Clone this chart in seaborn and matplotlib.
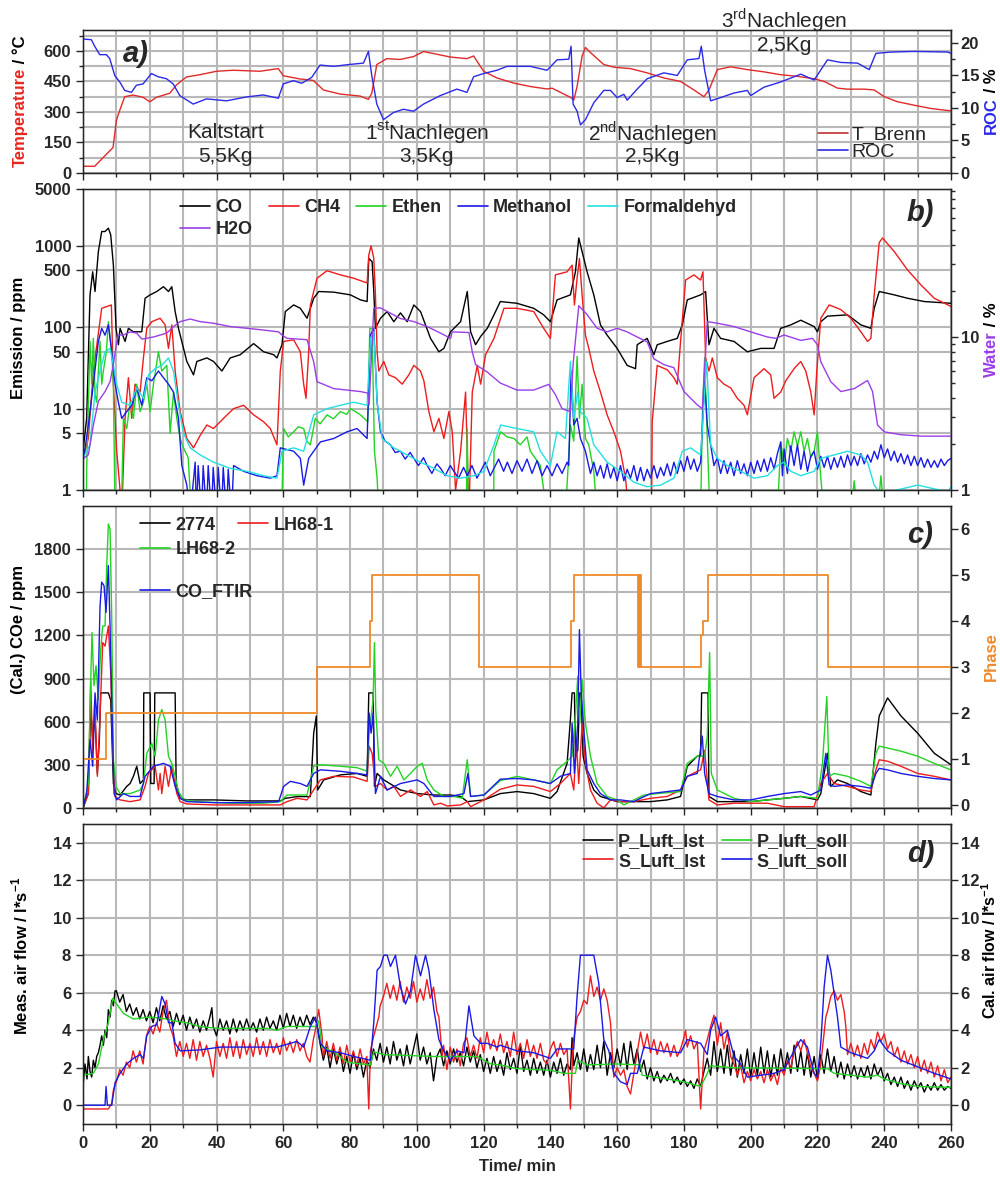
import matplotlib
matplotlib.use('Agg')
import matplotlib.pyplot as plt
import matplotlib.ticker as mticker
from matplotlib.lines import Line2D
import seaborn as sns

# ---- panel a: burner temperature and residual oxygen (ROC) ----
t_brenn = [(0, 33), (3.5, 33), (7, 92), (9, 125), (10, 258), (11, 308), (12.5, 375), (15, 383), (18, 372),
           (20, 350), (22, 372), (26, 392), (28, 433), (31, 472), (35, 483), (40, 500), (45, 505), (53, 500),
           (58.5, 513), (60, 478), (65, 462), (69, 455), (72, 408), (77, 388), (83, 378), (85.5, 362),
           (86.5, 392), (88, 533), (91, 562), (95, 558), (99, 572), (102, 597), (105, 587), (110, 570),
           (115, 562), (117, 575), (120, 500), (124, 467), (129, 442), (134, 425), (139, 413), (140.5, 417),
           (144, 388), (146, 372), (147, 358), (148, 425), (149.5, 575), (150.5, 617), (152, 592), (156, 533),
           (159, 520), (164, 513), (169, 492), (174, 467), (179, 450), (183, 408), (186, 375), (187.5, 408),
           (190, 508), (194, 522), (199, 508), (204, 497), (209, 483), (214, 475), (219, 463), (222, 450),
           (226, 417), (229, 412), (234, 412), (237, 408), (240, 375), (244, 350), (249, 333), (254, 317),
           (260, 305)]
roc = [(0, 20.6), (2.5, 20.5), (3.5, 19.5), (5, 18.2), (7, 18.2), (8, 17.6), (9.5, 15.0), (11, 14.0),
       (12.5, 12.7), (14.5, 12.4), (16, 13.5), (18, 13.7), (20.5, 15.3), (22.5, 14.8), (25, 14.5), (27, 13.7),
       (29, 11.9), (33, 10.6), (37, 11.4), (43, 11.1), (49, 11.7), (54, 12.0), (58.5, 11.5), (60, 13.7),
       (63, 14.2), (65.5, 13.8), (68.5, 14.7), (71, 16.6), (75, 16.4), (80, 16.7), (84, 16.9), (85.5, 18.7),
       (86.5, 15.0), (88, 10.6), (90, 8.2), (93, 9.3), (96, 9.8), (99, 9.5), (102, 10.6), (107, 11.9),
       (112, 12.9), (115, 12.4), (117, 14.8), (120, 15.3), (124, 15.8), (127, 16.4), (134, 16.4), (139, 15.8),
       (142, 17.4), (145.5, 17.5), (146.2, 19.5), (146.8, 10.6), (148, 9.5), (149, 7.4), (150.5, 8.2),
       (153, 10.8), (156, 12.7), (158, 12.7), (160, 11.6), (162, 12.1), (163, 11.2), (166, 12.9), (169, 14.5),
       (174, 15.4), (178, 15.0), (181, 17.4), (184.5, 17.6), (185.2, 19.5), (186.2, 15.8), (188, 11.1),
       (191, 11.6), (195, 12.3), (199, 12.7), (200, 11.9), (204, 13.2), (209, 14.0), (215, 15.2), (219, 14.3),
       (223, 17.4), (227, 17.0), (232, 16.9), (235.5, 15.9), (237.5, 18.4), (242, 18.6), (249, 18.7),
       (259, 18.6), (260, 18.4)]

# ---- panel b: FTIR emissions (ppm) and water (%) ----
co = [(0, 3), (1.1, 7.6), (2.1, 250), (2.9, 480), (3.6, 275), (4.6, 850), (5.6, 1500), (6.6, 1500), (7.6, 1650),
      (8.3, 1365), (9.1, 580), (9.9, 97), (10.6, 61), (11.1, 97), (12.6, 67), (13.6, 97), (15.1, 88), (17.6, 88),
      (18.6, 227), (20.1, 250), (22.1, 275), (24.1, 315), (25.6, 275), (26.6, 315), (27.6, 156), (28.6, 97),
      (31.1, 38), (33.1, 26), (34.1, 38), (37.1, 42), (39.1, 38), (41.6, 29), (44.1, 42), (47.1, 46), (51.1, 63),
      (54.1, 50), (57.1, 46), (58.1, 42), (59.6, 61), (60.6, 156), (63.1, 188), (65.1, 171), (67.1, 129),
      (68.1, 171), (69.1, 227), (70.6, 275), (75.1, 270), (80.1, 250), (83.1, 217), (85.1, 207), (85.6, 700),
      (86.6, 640), (87.1, 275), (87.6, 97), (89.1, 129), (91.1, 156), (93.1, 117), (95.1, 150), (97.1, 117),
      (99.1, 188), (101.1, 156), (104.1, 73), (106.6, 50), (108.1, 55), (110.1, 88), (113.1, 117), (115.1, 275),
      (116.1, 88), (117.6, 61), (119.1, 77), (121.1, 97), (123.1, 142), (125, 207), (130, 197), (135, 171),
      (138, 142), (140, 117), (142, 217), (146, 250), (147.5, 480), (148.5, 1250), (149.5, 850), (151, 480),
      (153, 250), (155, 107), (157, 80), (160, 55), (163, 34), (165.5, 31), (166, 61), (169, 73), (171, 46),
      (172, 61), (175, 67), (178, 73), (179.5, 107), (181, 217), (185, 250), (186.5, 275), (187.5, 61),
      (189, 97), (191, 73), (195, 67), (199, 50), (203, 55), (207, 55), (209, 97), (212, 107), (215, 122),
      (219, 102), (220, 88), (221, 117), (223, 137), (229, 142), (233, 107), (236, 97), (237, 171),
      (238.5, 275), (243, 250), (247, 227), (252, 207), (260, 197)]
ch4 = [(0, 2.45), (1.6, 4.3), (3.1, 29), (5.6, 171), (8.5, 188), (9.1, 20), (10.1, 3.0), (11.1, 1), (11.6, 0.5),
       (12.6, 7.6), (13.6, 24), (14.6, 7.6), (15.6, 20), (17.1, 16), (18.1, 42), (19.1, 97), (20.6, 117),
       (23.1, 129), (24.6, 107), (25.6, 55), (26.6, 107), (27.6, 29), (29.1, 9.2), (31.1, 4.3), (33.1, 3.3),
       (35.1, 4.7), (37.1, 6.3), (39.1, 5.7), (42.1, 7.6), (45.1, 10), (48.1, 11), (51.1, 8.4), (54.1, 6.9),
       (56.1, 5.7), (58.1, 3.6), (59.1, 29), (60.1, 67), (63.1, 70), (65.1, 50), (66.1, 20), (66.8, 13.4),
       (67.6, 50), (68.1, 188), (70.1, 400), (73.1, 495), (77.1, 440), (81.1, 400), (85.1, 350), (85.6, 770),
       (86.3, 1000), (87.1, 700), (87.6, 250), (88.1, 50), (88.6, 29), (90.1, 38), (91.6, 26), (93.6, 24),
       (95.6, 20), (97.6, 26), (99.1, 34), (101.1, 29), (102.1, 22), (103.6, 9.2), (105.1, 5.2), (106.6, 7.6),
       (108.1, 4.3), (109.6, 9.2), (110.6, 5.2), (111.6, 1), (113.1, 3), (114.6, 16), (115.6, 0.5), (116.6, 16),
       (118.1, 34), (119.1, 20), (120.6, 46), (123.1, 73), (126.1, 171), (130, 171), (135, 156), (138, 97),
       (140, 73), (141.5, 440), (145, 480), (146.5, 580), (147.2, 188), (148, 400), (148.7, 700), (149.5, 250),
       (150.5, 80), (151.5, 55), (153, 29), (155, 16), (157, 8.4), (159, 5.2), (161, 3.0), (162.5, 1.4),
       (163.5, 0.5), (170.3, 0.5), (170.5, 6.9), (172, 34), (175, 30), (177, 24), (178, 20), (179, 67),
       (180.5, 380), (183, 440), (185, 380), (185.7, 480), (186.5, 42), (187.5, 29), (188.5, 42), (190, 24),
       (192, 20), (194, 18), (196, 13.4), (198, 11), (199, 8.4), (201, 24), (204, 31), (206, 26), (207, 13.4),
       (209, 16), (210.5, 22), (213, 31), (215, 38), (216.5, 29), (218, 16), (219, 8.4), (219.8, 29), (221, 129),
       (223.5, 188), (227, 165), (230, 129), (233, 88), (235, 67), (236, 73), (237, 250), (238.5, 1100),
       (239.5, 1250), (243, 850), (247, 505), (251, 331), (255, 227), (260, 180)]
ethen = [(0, 0.5), (1.0, 0.5), (1.1, 1.8), (2.1, 67), (2.6, 20), (3.1, 73), (3.6, 15), (4.1, 12), (5.1, 67),
         (5.6, 20), (6.1, 29), (7.0, 50), (7.6, 117), (8.6, 50), (9.1, 20), (9.6, 0.5), (11.5, 0.5), (12.1, 7.6),
         (13.1, 5.7), (14.1, 12), (15.1, 7.6), (16.1, 20), (17.1, 9.2), (18.1, 12), (19.1, 20), (20.1, 9.2),
         (21.1, 20), (22.6, 50), (23.6, 29), (25.1, 34), (26.1, 5), (27.1, 16), (28.1, 7.6), (29.1, 4.3),
         (30.1, 3.3), (31.5, 2.5), (32.5, 0.5), (59.5, 0.5), (60.1, 5.7), (61.5, 4.5), (63.1, 5.2), (64.5, 6),
         (66.1, 5.7), (67, 4), (68.1, 3.6), (69.6, 7.6), (71, 6.5), (73.1, 8.4), (75, 7.5), (77.1, 9.2), (79, 8.5),
         (80.1, 10), (82, 9), (83.1, 8.4), (85.3, 6.9), (85.9, 97), (86.6, 97), (87.3, 3), (88.1, 1.4),
         (88.6, 0.5), (114.8, 0.5), (115.1, 5.7), (115.4, 0.5), (123, 0.5), (123.1, 3), (125.1, 5.2), (127, 4.5),
         (129.1, 4.3), (131, 3.6), (133, 4.5), (134, 3), (137, 2.0), (139, 0.5), (144.5, 0.5), (145, 1.15),
         (146, 6.3), (147, 4), (148, 44), (148.7, 7.6), (149.5, 20), (150.5, 4.3), (151.5, 3.6), (153, 1.7),
         (154, 0.5), (185, 0.5), (185.5, 7.6), (186.2, 42), (187, 4.3), (187.8, 0.5), (208, 0.5), (209, 3.9),
         (210, 2), (211, 4.3), (212, 3), (213, 5.2), (214, 3.5), (215, 5.2), (216, 3), (217, 4.3), (218, 2.5),
         (219, 3), (220, 5.2), (221, 1.4), (222, 0.5), (230, 0.5), (231, 1.3), (232, 0.5), (238, 0.5),
         (239, 1.5), (240, 0.5), (260, 0.5)]
methanol = [(0, 2.2), (1.6, 6.3), (3.1, 20), (4.6, 67), (5.6, 97), (6.6, 80), (7.6, 107), (8.6, 50), (9.6, 20),
            (10.6, 12), (11.6, 7.6), (13.1, 9.2), (14.6, 11), (16.1, 18), (17.6, 11), (19.1, 24), (20.6, 22),
            (22.6, 29), (24.1, 24), (25.6, 20), (27.1, 16), (28.6, 7.6), (29.6, 2.0), (31.1, 1.15), (32.1, 0.5),
            (33.6, 2.2), (34, 0.5), (34.5, 2.0), (35.5, 0.5), (36, 2.0), (37, 0.5), (37.5, 2.0), (38.5, 0.5),
            (39, 1.9), (40, 0.5), (40.5, 1.9), (41.5, 0.5), (42, 1.9), (43, 0.5), (43.5, 1.8), (44.5, 0.5),
            (45.1, 2.0), (48.1, 1.7), (52.1, 1.5), (56.1, 1.4), (58.1, 1.5), (59.1, 3.3), (63.1, 3), (65.1, 2.45),
            (66.1, 1.15), (67.6, 2.45), (69.1, 3), (71.1, 3.9), (75.1, 4.3), (79.1, 5.2), (82.1, 5.7), (85.1, 4.3),
            (86.1, 80), (87.1, 97), (88.1, 12), (89.1, 5.2), (90.5, 4.0), (92.1, 3.6), (93.5, 2.9), (95.1, 3),
            (96.5, 2.4), (98, 2.9), (99.1, 2.45), (100.5, 2.0), (102, 2.5), (103.1, 2), (104.5, 1.6), (106, 2.1),
            (107.1, 1.85), (108.5, 1.5), (110, 2.0), (111.1, 1.7), (112.5, 1.4), (114, 1.9), (115.1, 1.5),
            (116.5, 2.0), (118, 1.4), (119.1, 1.7), (120.5, 2.2), (122, 1.5), (123.1, 1.85), (124.5, 2.4),
            (126, 1.7), (127.1, 2.2), (128.5, 1.6), (130, 2.3), (131.5, 1.7), (133, 2.4), (134.5, 1.6), (136, 2.3),
            (137.5, 1.5), (139, 2.0), (140.5, 1.5), (142, 2.1), (143.5, 1.6), (145, 2.2), (145.5, 2.0),
            (146.2, 29), (147, 6.3), (148, 7.6), (149, 4.3), (150.5, 3), (152, 1.6), (153, 2.2), (154, 1.5),
            (155, 2.0), (156, 1.4), (157, 2.1), (158, 1.4), (159, 1.9), (160, 1.3), (161, 2.0), (162, 1.3),
            (163, 1.8), (164, 1.4), (165, 2.0), (166, 1.3), (167, 1.9), (168, 1.3), (169, 1.8), (170, 1.4),
            (171, 2.0), (172, 1.4), (173, 1.9), (174, 1.5), (175, 2.1), (176, 1.5), (177, 2.2), (178, 1.6),
            (179, 2.3), (180, 1.7), (181, 2.6), (182, 1.8), (183, 2.4), (184, 1.7), (185, 2.2), (186.2, 22),
            (187, 6.3), (188, 3.6), (189, 2.0), (190, 2.5), (191, 1.6), (192, 2.3), (193, 1.6), (194, 2.2),
            (195, 1.5), (196, 2.3), (197, 1.6), (198, 2.1), (199, 1.5), (200, 2.2), (201, 1.6), (202, 2.3),
            (203, 1.7), (204, 2.4), (205, 1.7), (206, 2.5), (207, 1.8), (208, 2.8), (209, 3.9), (209.5, 1.5),
            (210, 3.2), (211, 1.6), (212, 3.5), (213, 2.0), (214, 3.6), (215, 1.8), (216, 3.0), (217, 1.7),
            (218, 2.6), (219, 3.0), (220, 1.8), (221, 2.6), (222, 1.9), (223, 2.6), (224, 1.8), (225, 2.5),
            (226, 1.9), (227, 2.6), (228, 1.9), (229, 2.7), (230, 2.0), (231, 2.6), (232, 2.0), (233, 2.8),
            (234, 2.1), (235, 2.7), (236, 2.2), (237, 3.0), (238, 2.4), (239, 3.6), (240, 2.5), (241, 3.2),
            (242, 2.3), (243, 3.0), (244, 2.2), (245, 2.8), (246, 2.1), (247, 2.7), (248, 2.0), (249, 2.6),
            (250, 2.0), (251, 2.5), (252, 1.9), (253, 2.4), (254, 1.9), (255, 2.3), (256, 1.9), (257, 2.4),
            (258, 2.0), (259, 2.3), (260, 2.45)]
formaldehyd = [(0, 2.45), (2.1, 3.6), (3.6, 16), (5.1, 29), (6.6, 50), (8.1, 55), (9.1, 34), (10.1, 20),
               (11.6, 12), (14.1, 11), (16.1, 18), (18.1, 13.4), (19.6, 26), (21.6, 31), (23.6, 34), (25.6, 42),
               (27.1, 29), (28.6, 11), (30.1, 5), (32.1, 3.3), (35.1, 2.7), (39.1, 2.2), (44.1, 1.85), (49.1, 1.7),
               (54.1, 1.5), (58.1, 1.4), (59.6, 3), (63.1, 3.3), (66.1, 3), (69.1, 8.4), (73.1, 10), (77.1, 11),
               (81.1, 12), (85.1, 11), (86.1, 73), (87.1, 88), (88.1, 12), (89.6, 4.3), (93.1, 3.3), (97.1, 2.7),
               (101.1, 2.2), (105.1, 1.85), (109.1, 1.5), (113.1, 1.4), (117.1, 1.5), (120.1, 1.7), (123.1, 3.6),
               (125.1, 6.3), (130, 5.7), (135, 5.2), (137, 3), (140, 2), (142, 5.2), (144.5, 4.3), (146, 38),
               (147, 7.6), (148.2, 16), (149, 9.2), (151, 7.6), (153, 3.6), (157, 2.2), (161, 1.7), (165, 1.25),
               (169, 1.1), (173, 1.15), (177, 1.4), (179.5, 3), (182, 3.3), (185, 2.7), (186.8, 38), (188, 3.6),
               (190, 2.45), (193, 2.0), (197, 1.7), (201, 1.4), (205, 1.5), (208, 2.0), (210, 2.2), (212, 1.7),
               (215, 1.5), (219, 1.7), (221, 2.45), (225, 2.7), (229, 3), (233, 2.7), (235, 2.2), (237, 1.15),
               (239, 0.9), (250, 1.15), (259, 0.95), (260, 1.1)]
h2o = [(0, 1.6), (1.6, 1.7), (3.1, 2.66), (4.6, 3.8), (6.6, 4.4), (8.1, 5.1), (9.1, 6.6), (10.1, 9.3),
       (10.6, 10.3), (12.1, 10.3), (14.1, 10.8), (16.1, 10.6), (17.6, 9.7), (19.1, 9.8), (21.1, 10.0),
       (23.1, 10.3), (25.1, 10.6), (27.1, 11.7), (29.1, 12.6), (32.1, 13.1), (35.1, 12.6), (39.1, 12.3),
       (44.1, 11.7), (49.1, 11.4), (54.1, 11.1), (58.6, 10.8), (59.6, 10.3), (61.1, 9.8), (64.1, 9.7),
       (67.1, 9.6), (69.1, 6.9), (70.1, 5.1), (72.1, 4.9), (75.1, 4.6), (79.1, 4.5), (83.1, 4.4), (85.3, 4.3),
       (85.7, 3.6), (87.1, 15.4), (89.1, 15.5), (92.1, 14.3), (95.1, 13.2), (99.1, 12.6), (103.1, 11.7),
       (107.1, 10.6), (110.1, 9.8), (110.6, 10.8), (115.6, 10.7), (116.6, 8.0), (117.6, 6.6), (121.1, 5.9),
       (125, 5.0), (130, 4.5), (135, 4.5), (139.5, 4.9), (141.5, 4.2), (143.5, 3.4), (146, 3.25), (146.8, 6.6),
       (148.5, 16), (151, 14), (154, 11.4), (157, 10.8), (160, 11.4), (163, 10.8), (166, 10.0), (169, 9.3),
       (171, 7.2), (174, 6.6), (177, 6.3), (180, 4.4), (184, 3.6), (185.5, 3.4), (187, 12.6), (190, 12.3),
       (195, 11.7), (200, 10.8), (205, 10.0), (207.5, 9.8), (210, 10.3), (215, 9.5), (218.5, 9.8), (220, 8.9),
       (221, 6.9), (224, 5.1), (227, 4.4), (231, 4.6), (235, 5.2), (236.5, 4.4), (238, 2.66), (240, 2.4),
       (245, 2.3), (251, 2.25), (260, 2.25)]

# ---- panel c: sensor CO equivalents (ppm) and phase ----
s2774 = [(0, 0), (1.6, 100), (2.3, 700), (2.9, 475), (3.6, 640), (4.3, 240), (4.9, 475), (5.3, 800), (7.6, 800),
         (8.3, 750), (9.1, 170), (9.9, 100), (11.1, 90), (13.1, 150), (14.1, 170), (15.1, 220), (16.1, 290),
         (17.1, 170), (18.1, 195), (18.2, 800), (20.1, 800), (20.3, 170), (21.3, 170), (21.5, 800), (27.6, 800),
         (27.9, 170), (29.1, 67), (31.1, 56), (39.1, 56), (49.1, 49), (59.1, 49), (60.6, 67), (64.1, 79),
         (68.1, 79), (69.1, 520), (69.9, 640), (70.3, 125), (72.1, 195), (77.1, 230), (82.1, 240), (85.1, 220),
         (85.6, 800), (86.9, 800), (87.3, 150), (88.1, 240), (90.1, 195), (95.1, 125), (100.1, 100), (105.1, 90),
         (110.1, 90), (113.1, 80), (115.1, 44), (120.1, 56), (125, 100), (130, 114), (135, 100), (140, 67),
         (142, 114), (145, 310), (146, 615), (146.5, 800), (147.2, 800), (147.5, 360), (148.2, 400), (148.8, 800),
         (149.2, 800), (149.8, 360), (151, 240), (153, 125), (155, 80), (160, 44), (165, 44), (170, 44), (175, 56),
         (179, 80), (181, 290), (184, 360), (185, 360), (185.3, 800), (187.2, 800), (187.5, 80), (190, 44),
         (195, 44), (200, 44), (205, 56), (210, 67), (215, 80), (220, 56), (221, 100), (223, 380), (224, 150),
         (226, 195), (229, 170), (233, 114), (236, 90), (237.5, 450), (238.5, 640), (241, 765), (245, 640),
         (250, 520), (255, 380), (260, 300)]
lh68_1 = [(0, 0), (1.6, 100), (2.3, 890), (2.9, 380), (3.5, 750), (4.3, 220), (5.1, 640), (5.9, 1150), (6.6, 1125),
          (7.1, 1195), (7.6, 1265), (8.3, 940), (8.9, 405), (9.6, 80), (11.1, 56), (14.1, 44), (17.1, 56),
          (18.6, 150), (19.6, 240), (20.6, 265), (21.6, 290), (22.6, 125), (23.1, 240), (23.6, 100), (24.6, 290),
          (25.6, 150), (26.6, 290), (28.1, 100), (29.1, 44), (31.1, 28), (39.1, 21), (49.1, 21), (59.1, 21),
          (61.1, 44), (64.1, 67), (67.1, 56), (69.1, 125), (71.1, 195), (75.1, 220), (81.1, 215), (85.1, 185),
          (85.7, 430), (86.6, 380), (87.6, 150), (89.1, 170), (91.1, 125), (93.1, 150), (95.1, 80), (98.1, 125),
          (101.1, 80), (103.1, 114), (105.1, 21), (107.1, 33), (109.1, 14), (113.1, 21), (115.1, 44), (116.1, 9),
          (120.1, 56), (123, 100), (125, 130), (130, 160), (135, 150), (140, 114), (143, 170), (146, 240),
          (147, 125), (147.8, 450), (148.5, 170), (149.5, 590), (150.5, 310), (152, 125), (154, 33), (156, 0),
          (158, 56), (161, 44), (165, 44), (170, 67), (175, 80), (179, 125), (181, 220), (185, 265), (186.2, 400),
          (187.5, 56), (190, 21), (195, 33), (200, 33), (205, 33), (210, 9), (215, 9), (219, 9), (221, 170),
          (223, 240), (225, 170), (229, 150), (233, 125), (236, 114), (237.5, 265), (238.5, 335), (241, 325),
          (245, 290), (250, 240), (255, 220), (260, 195)]
lh68_2 = [(0, 0), (1.6, 170), (2.1, 700), (2.7, 1220), (3.3, 850), (3.9, 990), (4.6, 750), (5.3, 1100),
          (5.9, 1265), (6.6, 1265), (7.1, 1680), (7.6, 1975), (8.1, 1940), (8.6, 1335), (9.1, 335), (9.9, 150),
          (11.1, 100), (14.1, 100), (17.1, 125), (18.1, 170), (19.1, 380), (20.6, 450), (21.6, 360), (22.6, 610),
          (23.6, 685), (24.6, 610), (25.6, 360), (26.6, 310), (27.6, 220), (28.6, 115), (30.1, 56), (34.1, 44),
          (44.1, 33), (54.1, 33), (59.1, 44), (61.1, 90), (65.1, 90), (67.1, 90), (69.1, 290), (71.1, 300),
          (77.1, 290), (82.1, 280), (85.1, 255), (85.7, 520), (86.9, 750), (87.3, 1150), (87.7, 680), (88.6, 335),
          (90.1, 310), (92.1, 220), (94.1, 290), (96.1, 195), (98.1, 240), (100.1, 290), (101.6, 310),
          (103.1, 195), (105.1, 125), (108.1, 80), (111.1, 80), (113.6, 67), (115.1, 335), (116.1, 80),
          (120.1, 90), (125, 190), (130, 220), (135, 195), (140, 170), (142, 265), (145, 325), (146.5, 360),
          (147.5, 640), (148.2, 915), (148.8, 590), (149.5, 890), (150.5, 590), (152, 360), (154, 170), (157, 80),
          (160, 56), (162, 21), (165, 56), (168, 90), (172, 100), (179, 114), (181, 310), (184, 360),
          (186.2, 360), (187, 500), (187.7, 1080), (188.2, 240), (190, 125), (195, 67), (200, 44), (205, 56),
          (210, 67), (215, 80), (220, 67), (221.5, 310), (222.8, 775), (223.5, 220), (225, 240), (229, 220),
          (233, 185), (236, 150), (237.5, 380), (238.5, 430), (245, 395), (250, 360), (255, 310), (260, 265)]
co_ftir = [(0, 0), (1.1, 100), (2.1, 475), (2.9, 290), (3.6, 800), (4.3, 610), (5.1, 1400), (5.6, 1570),
           (6.3, 1545), (6.9, 1360), (7.6, 1685), (8.1, 1265), (8.6, 750), (9.3, 100), (10.1, 56), (12.1, 100),
           (14.1, 80), (17.1, 80), (18.6, 220), (21.1, 290), (24.1, 310), (26.1, 290), (27.6, 150), (29.1, 67),
           (31.1, 44), (39.1, 37), (49.1, 37), (58.6, 44), (60.1, 150), (62.1, 185), (65.1, 170), (67.1, 150),
           (69.1, 240), (71.1, 265), (77.1, 255), (82.1, 240), (85.1, 230), (85.7, 660), (86.3, 520), (86.9, 660),
           (87.6, 100), (89.1, 220), (91.1, 125), (95.1, 170), (100.1, 195), (102.1, 170), (105.1, 80),
           (110.1, 80), (114.1, 100), (115.3, 240), (116.1, 80), (120.1, 90), (125, 200), (130, 205), (135, 195),
           (140, 170), (143, 220), (146, 240), (146.5, 590), (147.2, 240), (148.2, 590), (148.7, 1240),
           (149.2, 820), (150, 545), (151, 265), (153, 170), (155, 100), (158, 56), (161, 56), (165, 44), (167, 67),
           (170, 100), (175, 114), (179, 125), (181, 220), (184, 240), (185.5, 500), (186.2, 240), (187.5, 100),
           (190, 80), (195, 56), (200, 56), (205, 80), (210, 100), (215, 114), (218, 90), (221, 125),
           (222.5, 380), (223.5, 160), (225, 150), (229, 160), (233, 150), (236, 137), (237.5, 240), (238.5, 275),
           (241, 265), (245, 240), (250, 220), (255, 205), (260, 195)]
phase = [(0, 1), (6.8, 2), (70, 3), (85.9, 4), (86.7, 5), (118.7, 3), (146.2, 4), (147.1, 5), (166.3, 3),
         (166.5, 5), (166.7, 3), (166.9, 5), (167.1, 3), (185.2, 3.7), (185.6, 4), (187.1, 5), (223.1, 3), (260, 3)]

# ---- panel d: measured and calculated air flows (l/s) ----
p_luft_ist = [(0, 1.0), (0.6, 2.2), (1.2, 1.4), (1.6, 2.6), (2.1, 1.8), (2.6, 1.5), (3.1, 2.4), (3.6, 2.0),
              (4.1, 2.6), (4.6, 2.8), (5.1, 3.2), (5.6, 3.7), (6.1, 3.2), (6.6, 4.0), (7.1, 3.6), (7.6, 5.1),
              (8.1, 4.7), (8.6, 5.6), (9.1, 5.3), (9.6, 6.1), (10, 6.1), (11, 5.5), (12, 5.9), (13, 5.0), (14, 5.4),
              (15, 4.8), (16, 5.2), (17, 4.6), (18, 5.1), (19, 4.5), (20, 5.0), (21, 4.4), (22, 5.2), (23, 4.5),
              (24, 5.3), (25, 4.6), (26, 5.0), (27, 4.2), (28, 4.9), (29, 4.3), (30, 4.8), (31, 4.0), (32, 4.7),
              (33, 4.1), (34, 4.6), (35, 3.9), (36, 4.5), (37, 4.0), (38, 4.7), (38.6, 5.2), (39, 4.2), (40, 3.7),
              (41, 4.6), (42, 4.0), (43, 4.5), (44, 3.8), (45, 4.6), (46, 3.9), (47, 4.5), (48, 4.0), (49, 4.6),
              (50, 4.0), (51, 4.4), (52, 3.9), (53, 4.6), (54, 4.0), (55, 4.7), (56, 4.1), (57, 4.5), (58, 4.0),
              (59, 4.8), (60, 4.1), (61, 4.9), (62, 4.2), (63, 4.8), (64, 4.1), (65, 4.7), (66, 4.2), (67, 4.8),
              (68, 4.3), (69, 4.7), (70, 4.4), (71, 3.3), (72, 2.4), (73, 3.1), (74, 2.0), (75, 3.0), (76, 2.2),
              (77, 2.9), (78, 1.8), (79, 2.6), (80, 1.7), (81, 2.8), (82, 1.9), (83, 2.5), (84, 1.5), (85, 2.4),
              (86, 2.0), (87, 3.0), (88, 2.4), (89, 3.3), (90, 2.3), (91, 3.1), (92, 2.2), (93, 3.4), (94, 2.4),
              (95, 3.0), (96, 2.1), (97, 3.2), (98, 2.2), (99, 3.0), (100, 3.8), (101, 2.4), (102, 3.1), (103, 2.2),
              (104, 2.8), (105, 1.3), (106, 2.6), (107, 3.0), (108, 2.1), (109, 2.9), (110, 2.2), (111, 3.0),
              (112, 2.3), (113, 2.8), (114, 2.1), (115, 3.1), (116, 2.3), (117, 2.9), (118, 2.0), (119, 2.7),
              (120, 1.8), (121, 2.5), (122, 1.7), (123, 2.6), (124, 1.8), (125, 2.4), (126, 1.6), (127, 2.8),
              (128, 1.9), (129, 2.5), (130, 1.7), (131, 3.2), (132, 1.8), (133, 2.4), (134, 1.6), (135, 2.5),
              (136, 1.7), (137, 2.3), (138, 1.6), (139, 2.4), (140, 1.5), (141, 2.3), (142, 1.7), (143, 2.5),
              (144, 1.6), (145, 2.2), (146, 1.9), (146.5, 3.6), (147, 2.1), (148, 2.8), (149, 1.9), (150, 3.0),
              (151, 1.8), (152, 2.7), (153, 1.9), (154, 3.2), (155, 2.0), (156, 3.4), (157, 1.6), (158, 2.8),
              (159, 2.0), (160, 3.0), (161, 2.1), (162, 3.3), (163, 1.9), (164, 3.4), (165, 2.2), (166, 3.0),
              (167, 1.8), (168, 2.4), (169, 1.4), (170, 2.0), (171, 1.3), (172, 1.8), (173, 1.2), (174, 1.6),
              (175, 1.3), (176, 1.7), (177, 1.2), (178, 1.5), (179, 1.1), (180, 1.4), (181, 1.0), (182, 1.3),
              (183, 0.9), (184, 1.4), (185, 1.0), (186, 1.8), (187, 2.5), (188, 1.6), (189, 3.4), (190, 1.8),
              (191, 3.0), (192, 1.7), (193, 3.2), (194, 1.6), (195, 2.9), (196, 1.5), (197, 2.7), (198, 1.7),
              (199, 3.0), (200, 1.5), (201, 2.8), (202, 1.6), (203, 3.1), (204, 1.7), (205, 2.9), (206, 1.5),
              (207, 2.7), (208, 1.6), (209, 3.0), (210, 1.8), (211, 2.8), (212, 1.7), (213, 3.2), (214, 1.8),
              (215, 2.9), (216, 1.6), (217, 2.8), (218, 1.5), (219, 2.6), (220, 1.4), (221, 2.7), (222, 1.7),
              (223, 3.0), (224, 1.8), (225, 2.6), (226, 1.5), (227, 2.3), (228, 1.4), (229, 2.2), (230, 1.5),
              (231, 2.1), (232, 1.4), (233, 2.0), (234, 1.5), (235, 2.1), (236, 1.4), (237, 2.2), (238, 1.6),
              (239, 2.0), (240, 1.3), (241, 1.7), (242, 1.1), (243, 1.5), (244, 1.0), (245, 1.5), (246, 0.9),
              (247, 1.3), (248, 0.8), (249, 1.3), (250, 0.9), (251, 1.2), (252, 0.7), (253, 1.1), (254, 0.8),
              (255, 1.2), (256, 0.8), (257, 1.1), (258, 0.8), (259, 1.0), (260, 0.9)]
s_luft_ist = [(0, -0.2), (7.6, -0.2), (8.6, 0.1), (9.1, 0.8), (10.1, 1.3), (11, 1.9), (12, 1.6), (13, 2.3),
              (14, 2.0), (15, 2.9), (16, 2.3), (17, 2.9), (18, 2.2), (19, 3.7), (20, 4.2), (21, 3.8), (22, 4.4),
              (23, 3.9), (24, 5.0), (25, 5.6), (26, 4.2), (27, 3.7), (28, 2.6), (29, 3.4), (30, 2.6), (31, 3.3),
              (32, 2.5), (33, 3.5), (34, 2.4), (35, 3.4), (36, 2.6), (37, 3.2), (38, 2.5), (39, 1.5), (40, 3.4),
              (41, 2.6), (42, 3.3), (43, 2.5), (44, 3.6), (45, 2.6), (46, 3.4), (47, 2.5), (48, 3.5), (49, 2.7),
              (50, 3.3), (51, 2.6), (52, 3.6), (53, 2.7), (54, 3.4), (55, 2.6), (56, 3.5), (57, 2.8), (58, 3.3),
              (59, 2.7), (60, 3.6), (61, 2.9), (62, 3.4), (63, 2.8), (64, 3.5), (65, 2.9), (66, 3.3), (67, 2.6),
              (68, 2.3), (69, 3.5), (69.6, 4.0), (70.6, 5.1), (71.6, 3.7), (72, 2.6), (73, 3.4), (74, 2.5), (75, 3.3),
              (76, 2.4), (77, 3.1), (78, 2.2), (79, 3.2), (80, 2.3), (81, 2.9), (82, 2.1), (83, 3.0), (84, 2.2),
              (85, 2.6), (85.6, -0.2), (86.1, 2.9), (87.1, 3.7), (88.6, 4.7), (89, 5.3), (90, 5.8), (91, 6.5),
              (92, 5.7), (93, 6.4), (94, 5.6), (95, 6.6), (96, 5.5), (97, 6.3), (98, 5.7), (99, 6.6), (100, 5.5),
              (101, 6.2), (102, 5.6), (103, 6.7), (104, 5.7), (105, 6.3), (106, 5.0), (106.6, 4.7), (107.6, 2.6),
              (108, 3.2), (109, 1.9), (110, 3.1), (111, 2.3), (112, 3.0), (113, 2.1), (114, 3.3), (115, 3.6),
              (116, 2.6), (117, 3.2), (118, 2.5), (119, 3.6), (120, 2.8), (121, 3.9), (122, 3.0), (123, 3.5),
              (124, 2.9), (125, 3.8), (126, 2.8), (127, 3.4), (128, 2.6), (129, 3.9), (130, 2.7), (131, 3.3),
              (132, 2.5), (133, 3.5), (134, 2.6), (135, 3.2), (136, 2.5), (137, 3.3), (138, 2.4), (139, 2.2),
              (140, 3.0), (141, 3.4), (142, 2.6), (143, 3.3), (144, 2.7), (145, 3.0), (146, -0.2), (146.8, 3.3),
              (148, 4.7), (149, 5.0), (150, 5.6), (151, 5.4), (152, 6.9), (153, 5.8), (154, 6.3), (155, 5.6),
              (156, 6.2), (157, 5.6), (158, 4.4), (159, 1.5), (160, 2.0), (161, 1.6), (162, 1.9), (163, 1.0),
              (164, 0.6), (165, 1.7), (166, 2.8), (167, 3.9), (168, 3.0), (169, 3.8), (170, 2.8), (171, 3.5),
              (172, 2.7), (173, 3.4), (174, 2.8), (175, 3.3), (176, 2.6), (177, 3.2), (178, 2.6), (179, 3.0),
              (180, 3.6), (180.5, 4.0), (181, 3.1), (182, 3.7), (183, 3.0), (184, 3.4), (185, -0.2), (186, 2.9),
              (187, 3.5), (188, 4.2), (189, 4.8), (190, 3.2), (191, 4.4), (192, 3.0), (193, 3.9), (194, 2.6),
              (195, 2.2), (196, 1.6), (197, 2.1), (198, 1.2), (199, 1.8), (200, 1.3), (201, 1.9), (202, 1.4),
              (203, 1.8), (204, 1.2), (205, 1.9), (206, 1.3), (207, 1.7), (208, 1.1), (209, 2.0), (210, 1.6),
              (211, 2.4), (212, 2.0), (213, 2.9), (214, 3.4), (215, 2.9), (216, 3.5), (217, 2.8), (218, 2.0),
              (219, 1.7), (220, 1.3), (221, 2.2), (222.5, 4.7), (223, 5.0), (224, 5.8), (225, 6.1), (226, 5.6),
              (227, 5.9), (228, 5.0), (228.5, 4.2), (229, 2.7), (230, 3.3), (231, 2.6), (232, 3.2), (233, 2.5),
              (234, 3.3), (235, 2.7), (236, 3.5), (237, 3.0), (238, 3.9), (239, 3.4), (240, 3.8), (241, 3.0),
              (242, 3.4), (243, 2.6), (244, 3.1), (245, 2.3), (246, 2.9), (247, 2.2), (248, 2.7), (249, 2.0),
              (250, 2.6), (251, 1.8), (252, 2.4), (253, 1.7), (254, 2.3), (255, 1.5), (256, 2.1), (257, 1.3),
              (258, 1.9), (259, 1.2), (260, 1.5)]
p_luft_soll = [(0, 1.6), (3.1, 1.7), (4.6, 2.2), (6.1, 3.5), (7.6, 4.4), (8.9, 5.7), (10.1, 5.4), (12.1, 4.9),
               (15.1, 4.6), (20.1, 4.7), (25.1, 4.6), (27.1, 4.5), (31.1, 4.4), (35.1, 4.2), (40.1, 4.1), (55.1, 4.1),
               (58.1, 4.0), (61.1, 4.2), (69.6, 4.2), (70.6, 4.5), (71.6, 3.1), (75.1, 2.85), (79.1, 2.3),
               (83.1, 2.2), (86.1, 2.15), (87.1, 2.85), (90.1, 2.7), (105.1, 2.6), (118.1, 2.6), (122.1, 2.2),
               (125, 2.15), (130, 1.95), (135, 1.9), (140, 1.87), (144, 1.7), (147.5, 1.7), (148.2, 2.4),
               (151, 2.15), (160, 2.2), (167, 2.15), (167.5, 1.6), (171, 1.5), (175, 1.4), (180, 1.25), (185, 1.0),
               (186.5, 1.5), (188, 2.1), (195, 2.0), (223, 1.95), (225, 1.7), (235, 1.5), (238, 1.6), (240, 1.4),
               (245, 1.15), (250, 1.0), (260, 0.95)]
s_luft_soll = [(0, 0), (6.6, 0), (6.9, 1.0), (7.3, 0), (8.6, 0), (9.6, 1.2), (11.1, 1.7), (13.1, 2.2),
               (15.1, 2.5), (17.1, 2.7), (18.1, 2.5), (19.1, 3.7), (20.6, 4.2), (22.1, 4.3), (23.6, 5.8),
               (24.6, 5.4), (25.6, 4.4), (26.6, 4.4), (27.6, 3.3), (29.1, 2.9), (35.1, 2.95), (41.1, 3.1),
               (50.1, 3.1), (58.1, 3.1), (62.1, 3.3), (64.1, 3.4), (66.1, 3.1), (68.1, 4.2), (69.6, 4.7), (71.1, 3.3),
               (73.1, 2.9), (77.1, 2.8), (81.1, 2.6), (86.1, 2.4), (87.1, 4.4), (88.1, 7.2), (89.1, 7.4), (90.1, 8.0),
               (91.1, 8.0), (92.1, 7.4), (93.6, 8.0), (95.1, 6.3), (96.6, 5.4), (98.1, 6.1), (99.6, 8.0),
               (101.1, 6.9), (102.6, 8.0), (103.6, 7.2), (105.1, 5.1), (106.6, 3.5), (108.1, 2.9), (110.1, 2.4),
               (112.1, 2.9), (114.1, 2.8), (115.6, 5.3), (117.1, 3.7), (119.1, 3.3), (121.1, 3.3), (124.1, 3.1),
               (125, 3.2), (130, 2.9), (135, 2.8), (140, 2.5), (142, 3.0), (147, 3.0), (148, 5.8), (149, 8.0),
               (153, 8.0), (154.5, 6.5), (156, 3.5), (157.5, 2.9), (159, 1.7), (161, 1.25), (163, 1.1), (164, 1.7),
               (166, 1.7), (168, 3.1), (173, 2.9), (179, 2.8), (181, 3.5), (185, 3.3), (187, 2.7), (188, 4.0),
               (189.5, 4.7), (191, 3.7), (193, 4.0), (195, 2.6), (197, 2.2), (199, 1.5), (203, 1.6), (207, 1.7),
               (210, 1.9), (213, 2.9), (215, 3.5), (217, 3.1), (219, 1.7), (220, 1.5), (221, 3.3), (222, 6.3),
               (223, 8.0), (224, 7.2), (226, 4.7), (227, 3.1), (230, 2.8), (235, 2.5), (237, 2.9), (238.5, 3.5),
               (241, 2.9), (245, 2.4), (250, 2.05), (255, 1.7), (260, 1.4)]

RED = '#ee1c1c'
BLUE = '#1a1ae6'
GREEN = '#22d322'
CYAN = '#22e0e0'
PURPLE = '#9b3ee8'
ORANGE = '#f0892a'
GRID = '#b8b8b8'

sns.set_style('ticks')
plt.rcParams['font.family'] = ['Liberation Sans', 'DejaVu Sans']
plt.rcParams['font.weight'] = 'bold'
plt.rcParams['mathtext.fontset'] = 'custom'
plt.rcParams['mathtext.rm'] = 'Liberation Sans:weight=normal'
plt.rcParams['mathtext.bf'] = 'Liberation Sans:weight=bold'

LEG = {'size': 13, 'weight': 'bold'}


def draw(ax, pts, color, lw=1.0, **kw):
    sns.lineplot(x=[p[0] for p in pts], y=[p[1] for p in pts], ax=ax, color=color, lw=lw,
                 estimator=None, sort=False, legend=False, **kw)


def style(ax, labels=False, ywhich='major'):
    ax.set_xlim(0, 260)
    ax.xaxis.set_major_locator(mticker.MultipleLocator(20))
    ax.xaxis.set_minor_locator(mticker.MultipleLocator(10))
    ax.grid(True, axis='x', which='both', color=GRID, lw=1.5)
    ax.grid(True, axis='y', which=ywhich, color=GRID, lw=1.5)
    ax.set_axisbelow(True)
    ax.tick_params(direction='out', length=5, width=1, labelsize=12, labelbottom=labels)
    ax.tick_params(which='minor', direction='out', length=3, width=1)
    for s in ax.spines.values():
        s.set_color('black')
        s.set_linewidth(1)


def twin_style(ax):
    ax.tick_params(direction='out', length=5, width=1, labelsize=12, pad=2)
    ax.tick_params(which='minor', direction='out', length=3, width=1)
    ax.grid(False)


def ylabel(ax, x, parts, colors, center=0.5, size=12):
    r = ax.figure.canvas.get_renderer()
    texts = [ax.text(x, 0.5, p, rotation=90, rotation_mode='anchor', transform=ax.transAxes,
                     ha='left', va='center', color=c, fontsize=size, fontweight='bold')
             for p, c in zip(parts, colors)]
    lens = [t.get_window_extent(r).height for t in texts]
    h = ax.get_window_extent(r).height
    pos = center - sum(lens) / 2 / h
    for t, ln in zip(texts, lens):
        t.set_position((x, pos))
        pos += ln / h


fig = plt.figure(figsize=(10, 11.84), dpi=100)
ax_a = fig.add_axes([0.083, 0.8539, 0.868, 0.1208])
ax_b = fig.add_axes([0.083, 0.5861, 0.868, 0.2543])
ax_c = fig.add_axes([0.083, 0.3176, 0.868, 0.2551])
ax_d = fig.add_axes([0.083, 0.0507, 0.868, 0.2534])

# a)
draw(ax_a, t_brenn, '#e02a2a')
style(ax_a, ywhich='both')
ax_a.set_ylim(0, 703)
ax_a.yaxis.set_major_locator(mticker.MultipleLocator(150))
ax_a.yaxis.set_minor_locator(mticker.MultipleLocator(75))
ax_a2 = ax_a.twinx()
draw(ax_a2, roc, '#2a2ae8')
ax_a2.set_ylim(0, 22)
ax_a2.yaxis.set_major_locator(mticker.MultipleLocator(5))
ax_a2.yaxis.set_minor_locator(mticker.MultipleLocator(2.5))
twin_style(ax_a2)
ax_a.text(0.046, 0.83, 'a)', transform=ax_a.transAxes, fontsize=21, style='italic', ha='left', va='center')
notes = [(42.8, 197, 'Kaltstart'), (42.8, 79, '5,5Kg'),
         (103, 197, '1$^{\\mathrm{st}}$Nachlegen'), (103, 79, '3,5Kg'),
         (170.5, 197, '2$^{\\mathrm{nd}}$Nachlegen'), (170.5, 79, '2,5Kg'),
         (210, 752, '3$^{\\mathrm{rd}}$Nachlegen'), (210, 625, '2,5Kg')]
for x, y, s in notes:
    ax_a.text(x, y, s, fontsize=15, fontweight='normal', ha='center', va='center')
ax_a.legend(handles=[Line2D([], [], color='#c03030', lw=1.2), Line2D([], [], color='#2a2ae8', lw=1.2)],
            labels=['T_Brenn', 'ROC'], loc='upper left', bbox_to_anchor=(0.847, 0.33), frameon=False,
            prop={'size': 14, 'weight': 'normal'}, handlelength=1.55, handletextpad=0.15, labelspacing=0.0,
            borderpad=0, borderaxespad=0)

# b)
for pts, col in [(co, 'black'), (ch4, RED), (ethen, GREEN), (methanol, BLUE), (formaldehyd, CYAN)]:
    draw(ax_b, pts, col)
style(ax_b)
ax_b.set_yscale('log')
ax_b.set_ylim(1, 5000)
ax_b.yaxis.set_major_locator(mticker.FixedLocator([1, 5, 10, 50, 100, 500, 1000, 5000]))
ax_b.yaxis.set_major_formatter(mticker.FuncFormatter(lambda v, p: f'{v:g}'))
ax_b.yaxis.set_minor_locator(mticker.NullLocator())
ax_b2 = ax_b.twinx()
draw(ax_b2, h2o, PURPLE)
ax_b2.set_yscale('log')
ax_b2.set_ylim(1, 92.7)
ax_b2.yaxis.set_major_locator(mticker.FixedLocator([1, 10]))
ax_b2.yaxis.set_major_formatter(mticker.FuncFormatter(lambda v, p: f'{v:g}'))
ax_b2.yaxis.set_minor_locator(mticker.LogLocator(subs=range(2, 10)))
ax_b2.yaxis.set_minor_formatter(mticker.NullFormatter())
twin_style(ax_b2)
ax_b.text(0.949, 0.92, 'b)', transform=ax_b.transAxes, fontsize=21, style='italic', ha='left', va='center')
b_names = ['CO', 'H2O', 'CH4', 'Ethen', 'Methanol', 'Formaldehyd']
b_cols = ['black', PURPLE, RED, GREEN, BLUE, CYAN]
ax_b.legend(handles=[Line2D([], [], color=c, lw=1.2) for c in b_cols], labels=b_names, ncol=5,
            loc='upper left', bbox_to_anchor=(0.112, 0.967), frameon=False, prop=LEG,
            handlelength=1.67, handletextpad=0.28, labelspacing=0.3, columnspacing=0.9, borderpad=0,
            borderaxespad=0)

# c)
for pts, col in [(s2774, 'black'), (lh68_1, RED), (lh68_2, GREEN), (co_ftir, BLUE)]:
    draw(ax_c, pts, col)
style(ax_c)
ax_c.set_ylim(0, 2100)
ax_c.yaxis.set_major_locator(mticker.FixedLocator([0, 300, 600, 900, 1200, 1500, 1800]))
ax_c2 = ax_c.twinx()
draw(ax_c2, phase, ORANGE, lw=1.3, drawstyle='steps-post')
ax_c2.set_ylim(-0.065, 6.5)
ax_c2.yaxis.set_major_locator(mticker.MultipleLocator(1))
twin_style(ax_c2)
ax_c.text(0.949, 0.904, 'c)', transform=ax_c.transAxes, fontsize=21, style='italic', ha='left', va='center')
leg1 = ax_c.legend(handles=[Line2D([], [], color=c, lw=1.2) for c in ['black', GREEN, RED]],
                   labels=['2774', 'LH68-2', 'LH68-1'], ncol=2, loc='upper left', bbox_to_anchor=(0.066, 0.964),
                   frameon=False, prop=LEG, handlelength=1.67, handletextpad=0.28,
                   labelspacing=0.4, columnspacing=0.15, borderpad=0, borderaxespad=0)
ax_c.add_artist(leg1)
ax_c.legend(handles=[Line2D([], [], color=BLUE, lw=1.2)], labels=['CO_FTIR'], loc='upper left',
            bbox_to_anchor=(0.066, 0.745), frameon=False, prop=LEG,
            handlelength=1.67, handletextpad=0.28, borderpad=0, borderaxespad=0)

# d)
for pts, col in [(p_luft_ist, 'black'), (s_luft_ist, RED), (p_luft_soll, GREEN), (s_luft_soll, BLUE)]:
    draw(ax_d, pts, col)
style(ax_d, labels=True)
ax_d.set_ylim(-1, 15)
ax_d.yaxis.set_major_locator(mticker.FixedLocator(list(range(0, 15, 2))))
ax_d2 = ax_d.twinx()
ax_d2.set_ylim(-1, 15)
ax_d2.yaxis.set_major_locator(mticker.FixedLocator(list(range(0, 15, 2))))
twin_style(ax_d2)
ax_d.set_xlabel('Time/ min', fontsize=12, fontweight='bold', labelpad=6)
ax_d.text(0.949, 0.90, 'd)', transform=ax_d.transAxes, fontsize=21, style='italic', ha='left', va='center')
ax_d.legend(handles=[Line2D([], [], color=c, lw=1.2) for c in ['black', RED, GREEN, BLUE]],
            labels=['P_Luft_Ist', 'S_Luft_Ist', 'P_luft_soll', 'S_luft_soll'], ncol=2, loc='upper left',
            bbox_to_anchor=(0.576, 0.97), frameon=False, prop=LEG,
            handlelength=1.67, handletextpad=0.28, labelspacing=0.15, columnspacing=0.9, borderpad=0,
            borderaxespad=0)

fig.canvas.draw()
ylabel(ax_a, -0.072, ['Temperature', ' / °C'], ['#e8261e', 'black'])
ylabel(ax_a, 1.047, ['ROC', ' / %'], ['#2a2ae8', 'black'])
ylabel(ax_b, -0.074, ['Emission / ppm'], ['black'], center=0.505)
ylabel(ax_b, 1.047, ['Water', ' / %'], [PURPLE, 'black'])
ylabel(ax_c, -0.074, ['(Cal.) COe / ppm'], ['black'], center=0.59)
ylabel(ax_c, 1.047, ['Phase'], [ORANGE])
ylabel(ax_d, -0.072, ['Meas. air flow / l*s$^{\\mathbf{-1}}$'], ['black'], center=0.56)
ylabel(ax_d, 1.044, ['Cal. air flow / l*s$^{\\mathbf{-1}}$'], ['black'], center=0.58, size=11.5)

fig.savefig('out.png', dpi=100)
